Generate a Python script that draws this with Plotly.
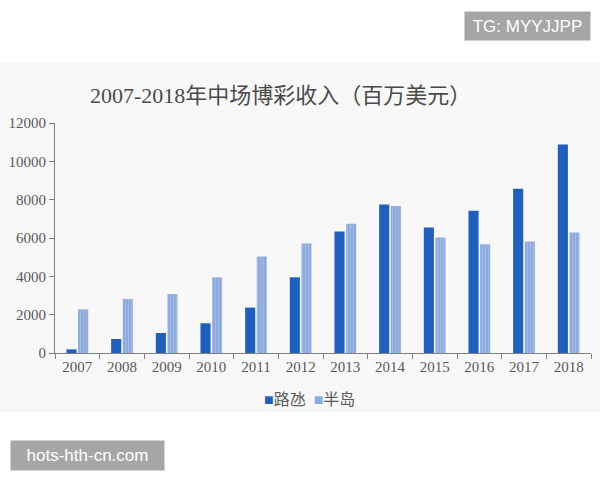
import plotly.graph_objects as go

years = ["2007", "2008", "2009", "2010", "2011", "2012", "2013", "2014", "2015", "2016", "2017", "2018"]
cotai = [190, 730, 1045, 1550, 2370, 3950, 6340, 7750, 6550, 7420, 8570, 10880]
peninsula = [2280, 2820, 3080, 3950, 5030, 5710, 6740, 7670, 6030, 5680, 5820, 6290]
y_ticks = [0, 2000, 4000, 6000, 8000, 10000, 12000]

W, H = 600, 480
L, R, T, B = 55, 9, 123, 127
pw, ph = W - L - R, H - T - B

def px(x):
    return (x - L) / pw

def py(y):
    return 1 - (y - T) / ph

serif = "Liberation Serif, DejaVu Serif, Noto Sans CJK SC, serif"
txt = "#5a5a5a"
dark = "#1f5fbd"
light = "#8eabe0"

fig = go.Figure()
fig.add_trace(go.Bar(x=years, y=cotai, name="路氹", marker=dict(color=dark, line=dict(width=0))))
fig.add_trace(go.Bar(x=years, y=peninsula, name="半岛",
                     marker=dict(color=light, line=dict(width=0),
                                 pattern=dict(shape="|", fgcolor="#b7c9ee", size=3, solidity=0.35))))

fig.update_layout(
    width=W, height=H,
    margin=dict(l=L, r=R, t=T, b=B),
    paper_bgcolor="white", plot_bgcolor="rgba(0,0,0,0)",
    barmode="group", bargap=0.48, bargroupgap=0.13,
    showlegend=False,
    xaxis=dict(type="category", showline=True, linecolor="#7f7f7f", linewidth=1,
               ticks="outside", ticklen=5, tickcolor="#7f7f7f", tickson="boundaries",
               tickfont=dict(family=serif, size=15, color=txt), showgrid=False),
    yaxis=dict(range=[0, 12000], tickvals=y_ticks, ticktext=[str(v) for v in y_ticks],
               showline=True, linecolor="#7f7f7f", linewidth=1,
               ticks="outside", ticklen=5, tickcolor="#7f7f7f",
               tickfont=dict(family=serif, size=15, color=txt), showgrid=False, zeroline=False),
    shapes=[dict(type="rect", xref="paper", yref="paper", x0=px(0), x1=px(600), y0=py(412), y1=py(63),
                 fillcolor="#f8f8f8", line=dict(width=0), layer="below")],
    annotations=[
        dict(text="2007-2018年中场博彩收入（百万美元）", xref="paper", yref="paper",
             x=px(280), y=py(95), xanchor="center", yanchor="middle", showarrow=False,
             font=dict(family=serif, size=22, color="#4a4a4a")),
        dict(text=f"<span style='color:{dark}'>■</span>路氹 &nbsp;<span style='color:{light}'>■</span>半岛",
             xref="paper", yref="paper", x=px(309), y=py(399), xanchor="center", yanchor="middle",
             showarrow=False, font=dict(family=serif, size=16, color=txt)),
        dict(text="TG: MYYJJPP", xref="paper", yref="paper", x=px(527), y=py(26),
             xanchor="center", yanchor="middle", showarrow=False, bgcolor="#a6a6a6",
             width=125, height=28, borderpad=0,
             font=dict(family="Liberation Sans, Arial, sans-serif", size=17, color="white")),
        dict(text="hots-hth-cn.com", xref="paper", yref="paper", x=px(87), y=py(455),
             xanchor="center", yanchor="middle", showarrow=False, bgcolor="#a6a6a6",
             width=153, height=29, borderpad=0,
             font=dict(family="Liberation Sans, Arial, sans-serif", size=17, color="white")),
    ],
)

fig.write_html("out.html")
